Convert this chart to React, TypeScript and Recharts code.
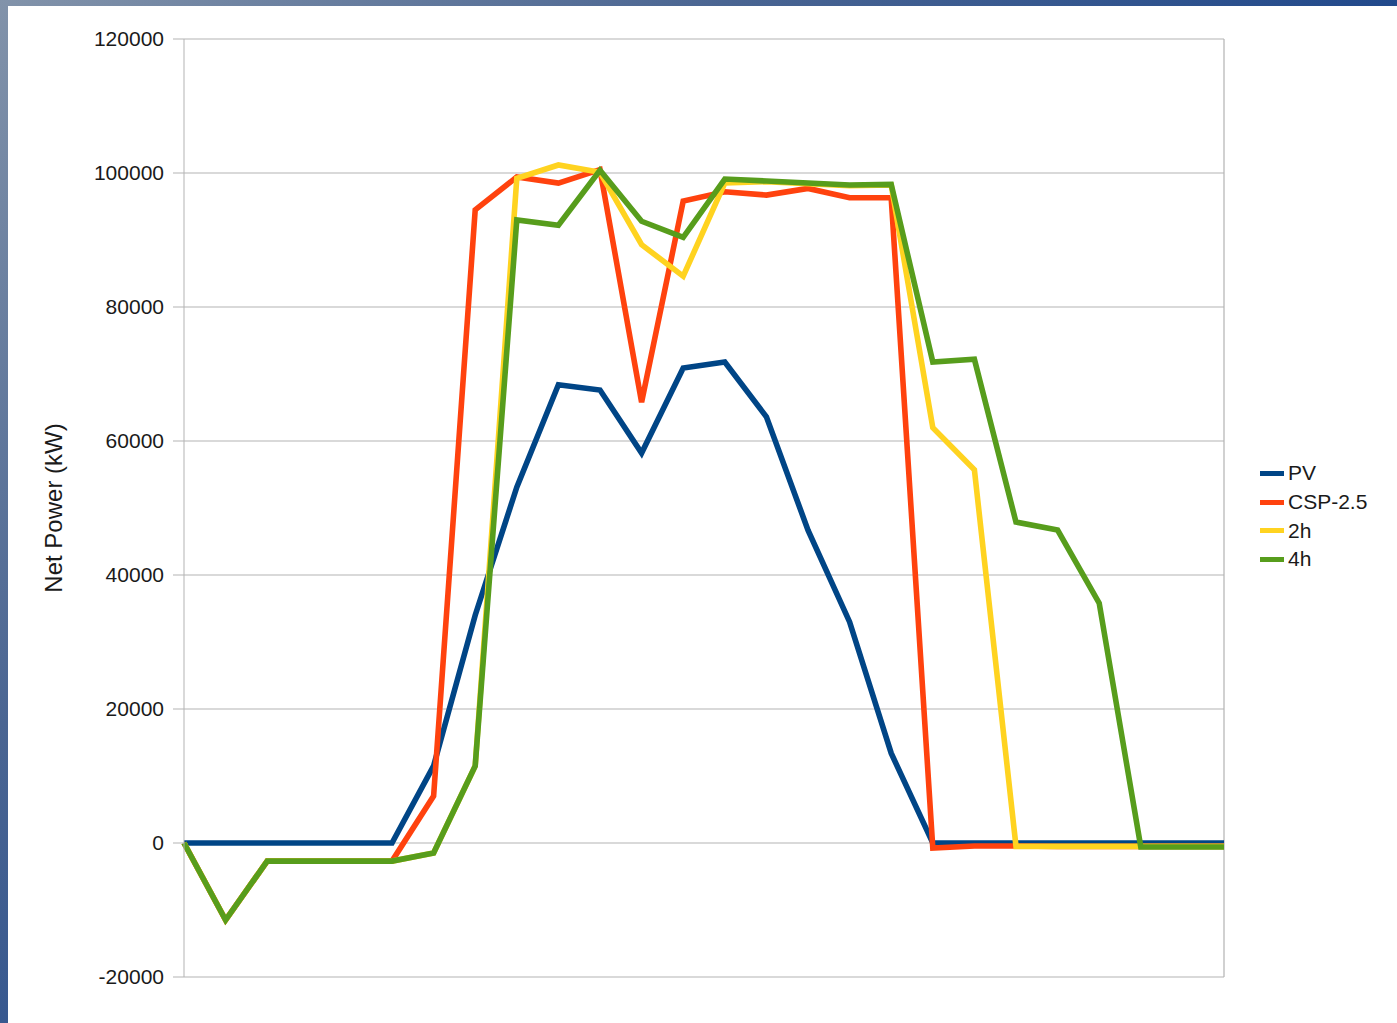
import React from "react";
import { LineChart, Line, XAxis, YAxis, CartesianGrid, Legend, ReferenceLine } from "recharts";

// hourly steps (no labels are shown on the x axis)
const hours = [0, 1, 2, 3, 4, 5, 6, 7, 8, 9, 10, 11, 12, 13, 14, 15, 16, 17, 18, 19, 20, 21, 22, 23, 24, 25];

const pv = [0, 0, 0, 0, 0, 0, 11500, 34000, 53100, 68400, 67600, 58200, 70900, 71800, 63600, 46700, 33000, 13400, 0, 0, 0, 0, 0, 0, 0, 0];
const csp = [0, -11500, -2700, -2700, -2700, -2700, 7000, 94500, 99400, 98500, 100500, 65800, 95800, 97200, 96700, 97700, 96300, 96300, -750, -450, -450, -500, -500, -500, -500, -500];
const h2 = [0, -11500, -2700, -2700, -2700, -2700, -1500, 11500, 99200, 101200, 100100, 89300, 84600, 98500, 98700, 98400, 98100, 98200, 62000, 55700, -500, -500, -500, -500, -500, -500];
const h4 = [0, -11500, -2700, -2700, -2700, -2700, -1500, 11500, 93000, 92200, 100400, 92800, 90400, 99100, 98800, 98500, 98200, 98300, 71800, 72200, 47900, 46700, 35800, -600, -600, -600];

const yTicks = [-20000, 0, 20000, 40000, 60000, 80000, 100000, 120000];

const seriesNames = ["PV", "CSP-2.5", "2h", "4h"];
const seriesColors = ["#004586", "#ff420e", "#ffd320", "#579d1c"];

const data = hours.map((h, i) => ({ hour: h, pv: pv[i], csp: csp[i], h2: h2[i], h4: h4[i] }));
const keys = ["pv", "csp", "h2", "h4"];

const font = "'Liberation Sans', Arial, sans-serif";

const LegendBox = () => (
  <div style={{ fontFamily: font, fontSize: 21, color: "#1a1a1a" }}>
    {seriesNames.map((n, i) => (
      <div key={n} style={{ display: "flex", alignItems: "center", height: 28.7 }}>
        <div style={{ width: 24, height: 5, background: seriesColors[i], marginRight: 4 }} />
        <span>{n}</span>
      </div>
    ))}
  </div>
);

export default function App() {
  return (
    <div style={{ position: "relative", width: 1397, height: 1023, background: "linear-gradient(135deg, #8293aa 0%, #4a6592 30%, #1e478b 60%, #143e86 100%)", overflow: "hidden" }}>
      <style>{"body{margin:0}"}</style>
      <div style={{ position: "absolute", left: 8, top: 6, right: 0, bottom: 0, background: "#fff" }} />
      <div style={{ position: "absolute", left: 0, top: 0 }}>
        <LineChart width={1397} height={1023} data={data} margin={{ top: 39, right: 173, bottom: 46, left: 0 }}>
          <CartesianGrid vertical={false} stroke="#b3b3b3" strokeWidth={1.2} />
          <XAxis dataKey="hour" hide />
          <YAxis
            width={184}
            domain={[-20000, 120000]}
            ticks={yTicks}
            interval={0}
            allowDataOverflow
            stroke="#b3b3b3"
            tickSize={11}
            tickMargin={9}
            tick={{ fill: "#1a1a1a", fontSize: 21, fontFamily: font }}
            label={{ value: "Net Power (kW)", angle: -90, position: "center", dx: -39, style: { fill: "#1a1a1a", fontSize: 24, fontFamily: font } }}
          />
          <ReferenceLine x={hours[hours.length - 1]} stroke="#b3b3b3" strokeWidth={1.2} />
          {keys.map((k, i) => (
            <Line key={k} type="linear" dataKey={k} name={seriesNames[i]} stroke={seriesColors[i]} strokeWidth={5.6} dot={false} isAnimationActive={false} />
          ))}
          <Legend layout="vertical" align="center" verticalAlign="middle" wrapperStyle={{ left: 1260, top: 459, width: 130 }} content={() => <LegendBox />} />
        </LineChart>
      </div>
    </div>
  );
}
